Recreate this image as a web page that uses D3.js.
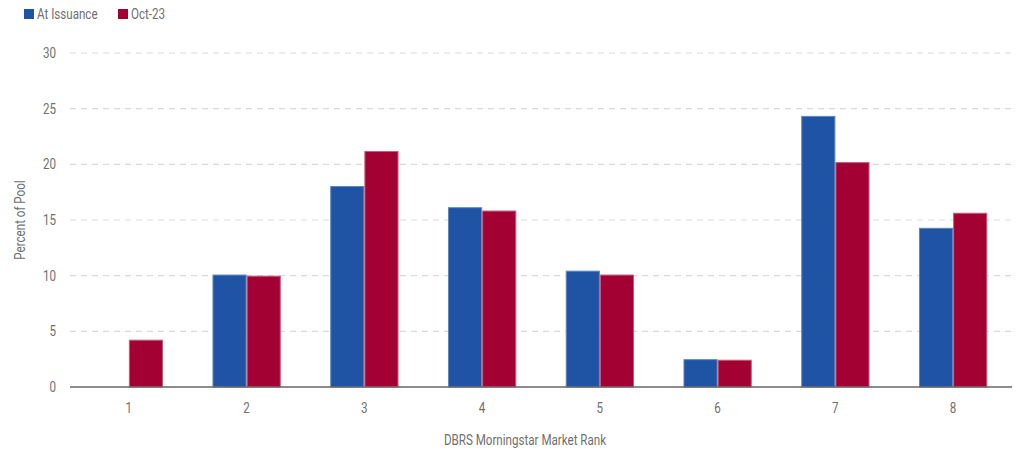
<!DOCTYPE html>
<html>
<head>
<meta charset="utf-8">
<script src="https://cdn.jsdelivr.net/npm/d3@7"></script>
<style>
  body { margin: 0; background: #fff; }
  text { font-family: "Roboto", "Liberation Sans", sans-serif; fill: #707070; font-size: 14.5px; }
</style>
</head>
<body>
<div id="root"></div>
<script>
const ranks = ["1", "2", "3", "4", "5", "6", "7", "8"];
const seriesNames = ["At Issuance", "Oct-23"];
const atIssuance = [0, 10.1, 18.05, 16.15, 10.45, 2.5, 24.35, 14.3];
const oct23 = [4.25, 10.0, 21.2, 15.85, 10.1, 2.45, 20.2, 15.65];
const yTicks = [0, 5, 10, 15, 20, 25, 30];
const COLOR = ["#1f53a3", "#a30033"];

const width = 1018, height = 454;
const margin = { left: 70, right: 6, top: 53, bottom: 67 };
const SQUEEZE = 0.8; // no condensed font installed, so narrow the glyphs

const svg = d3.select('#root')
  .append('svg')
  .attr('width', width)
  .attr('height', height);

// condensed-looking label
function label(parent, px, py, anchor, txt, rot) {
  return parent.append('text')
    .attr('transform', `translate(${px},${py})${rot ? ' rotate(' + rot + ')' : ''} scale(${SQUEEZE},1)`)
    .attr('text-anchor', anchor)
    .attr('dy', '0.35em')
    .text(txt);
}

const x = d3.scaleBand()
  .domain(ranks)
  .range([margin.left, width - margin.right])
  .paddingInner(0.42)
  .paddingOuter(0.21);

const xs = d3.scaleBand()
  .domain(seriesNames)
  .range([0, x.bandwidth()]);

const y = d3.scaleLinear()
  .domain([0, 30])
  .range([height - margin.bottom, margin.top]);

// grid
svg.append('g')
  .selectAll('line')
  .data(yTicks.filter(d => d > 0))
  .join('line')
  .attr('x1', margin.left)
  .attr('x2', width - margin.right)
  .attr('y1', d => y(d))
  .attr('y2', d => y(d))
  .attr('stroke', '#d9d9d9')
  .attr('stroke-width', 1.2)
  .attr('stroke-dasharray', '6,5');

// y tick labels
const yl = svg.append('g');
yTicks.forEach(t => label(yl, 56, y(t), 'end', t));

// bars
const rows = ranks.map((r, i) => ({ rank: r, values: [atIssuance[i], oct23[i]] }));
const group = svg.append('g')
  .selectAll('g')
  .data(rows)
  .join('g')
  .attr('transform', d => `translate(${x(d.rank)},0)`);

group.selectAll('rect')
  .data(d => d.values.map((v, k) => ({ key: seriesNames[k], v, k })).filter(d => d.v > 0))
  .join('rect')
  .attr('x', d => xs(d.key) + 0.5)
  .attr('width', xs.bandwidth() - 1)
  .attr('y', d => y(d.v) + 0.5)
  .attr('height', d => y(0) - y(d.v) - 0.5)
  .attr('fill', d => COLOR[d.k])
  .attr('stroke', d => d.k === 0 ? '#5f86c2' : '#c75a7a')
  .attr('stroke-width', 1);

// baseline
svg.append('line')
  .attr('x1', margin.left)
  .attr('x2', width - margin.right)
  .attr('y1', y(0))
  .attr('y2', y(0))
  .attr('stroke', '#666')
  .attr('stroke-width', 1.5);

// x tick labels
const xl = svg.append('g');
ranks.forEach(r => label(xl, x(r) + x.bandwidth() / 2, 408, 'middle', r));

// axis titles
label(svg, (margin.left + width - margin.right) / 2 - 16, 440, 'middle', 'DBRS Morningstar Market Rank');
label(svg, 20, y(15), 'middle', 'Percent of Pool', -90);

// legend
const legend = svg.append('g')
  .selectAll('g')
  .data(seriesNames)
  .join('g')
  .attr('transform', (d, i) => `translate(${i === 0 ? 24 : 118}, 9)`);

legend.append('rect')
  .attr('width', 10)
  .attr('height', 10)
  .attr('fill', (d, i) => COLOR[i]);

legend.each(function(d) { label(d3.select(this), 13, 5, 'start', d); });
</script>
</body>
</html>
